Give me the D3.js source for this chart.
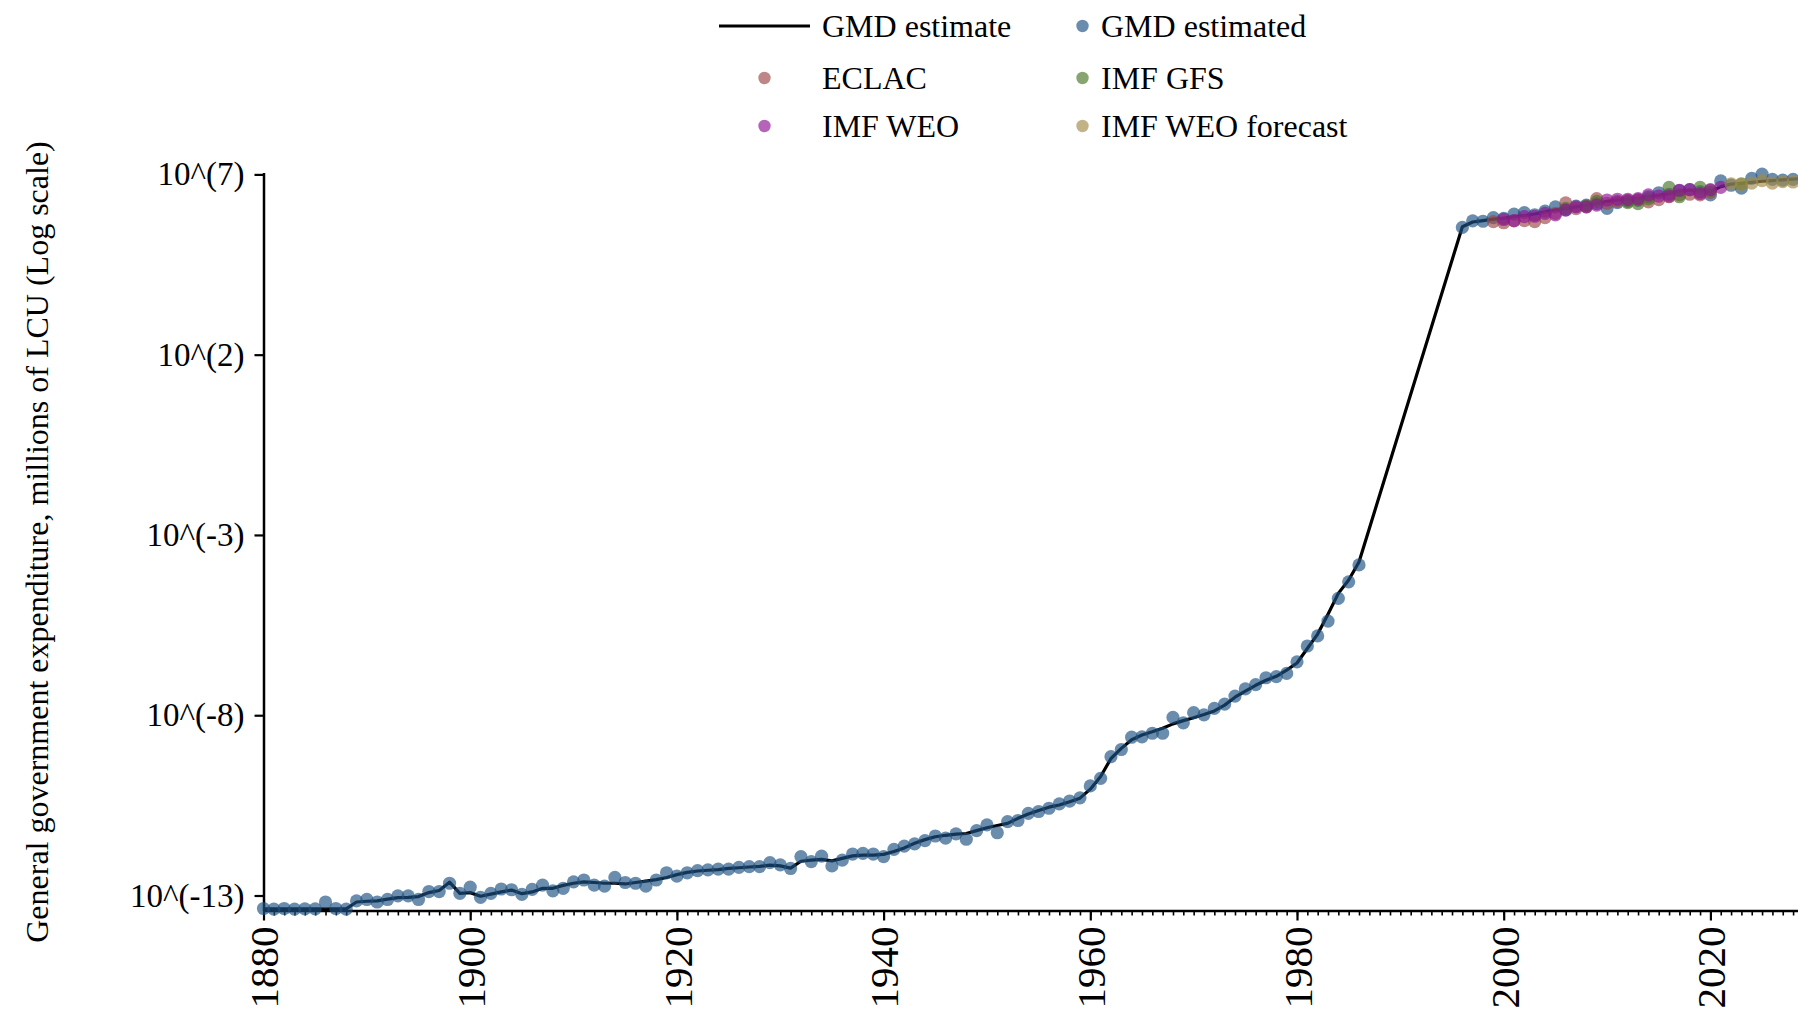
<!DOCTYPE html>
<html>
<head>
<meta charset="utf-8">
<script src="https://cdn.jsdelivr.net/npm/d3@7"></script>
<style>
  body { margin: 0; background: #fff; }
  text { font-family: "Liberation Serif", "Times New Roman", serif; fill: #000; }
</style>
</head>
<body>
<div id="chart"></div>
<script>
// Data (values are log10 of millions of LCU)
const lineYears = d3.range(1880, 1987).concat(d3.range(1996, 2030));
const lineValues = [
  -13.37, -13.37, -13.37, -13.37, -13.37, -13.37, -13.37, -13.37, -13.37, -13.18,
  -13.16, -13.15, -13.10, -13.06, -13.05, -13.03, -12.92, -12.86, -12.63, -12.94,
  -12.92, -13.02, -12.96, -12.90, -12.85, -12.95, -12.90, -12.80, -12.80, -12.72,
  -12.66, -12.62, -12.64, -12.66, -12.66, -12.68, -12.64, -12.60, -12.56, -12.50,
  -12.42, -12.36, -12.32, -12.30, -12.28, -12.25, -12.23, -12.21, -12.19, -12.16,
  -12.18, -12.24, -12.05, -12.02, -12.00, -12.04, -11.97, -11.90, -11.88, -11.88,
  -11.86, -11.78, -11.68, -11.55, -11.45, -11.37, -11.33, -11.30, -11.28, -11.20,
  -11.12, -11.06, -11.00, -10.86, -10.74, -10.64, -10.55, -10.49, -10.40, -10.30,
  -10.05, -9.70, -9.20, -8.92, -8.68, -8.55, -8.46, -8.36, -8.24, -8.15,
  -8.07, -7.98, -7.88, -7.72, -7.50, -7.33, -7.17, -7.03, -6.92, -6.75,
  -6.55, -6.15, -5.75, -5.20, -4.62, -4.25, -3.75,
  5.55, 5.68, 5.72, 5.76, 5.78, 5.83, 5.86, 5.90, 5.96, 6.02,
  6.06, 6.10, 6.14, 6.20, 6.25, 6.29, 6.31, 6.33, 6.38, 6.42,
  6.47, 6.53, 6.56, 6.56, 6.52, 6.66, 6.73, 6.75, 6.78, 6.81,
  6.83, 6.85, 6.87, 6.89
];

const gmdYears = d3.range(1880, 1987).concat(d3.range(1996, 2029));
const gmdValues = [
  -13.36, -13.38, -13.36, -13.38, -13.37, -13.37, -13.18, -13.36, -13.38, -13.15,
  -13.11, -13.18, -13.11, -13.01, -13.01, -13.11, -12.89, -12.89, -12.66, -12.94,
  -12.77, -13.05, -12.94, -12.82, -12.84, -12.97, -12.83, -12.71, -12.87, -12.80,
  -12.62, -12.57, -12.71, -12.74, -12.50, -12.64, -12.66, -12.74, -12.57, -12.37,
  -12.46, -12.37, -12.31, -12.29, -12.27, -12.27, -12.22, -12.20, -12.20, -12.09,
  -12.15, -12.25, -11.92, -12.06, -11.91, -12.18, -12.02, -11.85, -11.83, -11.85,
  -11.92, -11.72, -11.63, -11.57, -11.48, -11.35, -11.41, -11.29, -11.44, -11.20,
  -11.04, -11.26, -10.95, -10.92, -10.72, -10.67, -10.58, -10.46, -10.38, -10.29,
  -9.96, -9.75, -9.15, -8.95, -8.61, -8.60, -8.50, -8.50, -8.06, -8.21,
  -7.93, -7.99, -7.81, -7.69, -7.47, -7.27, -7.15, -6.96, -6.93, -6.84,
  -6.52, -6.08, -5.80, -5.39, -4.76, -4.30, -3.83,
  5.53, 5.71, 5.70, 5.80, 5.78, 5.90, 5.94, 5.88, 5.98, 6.10,
  6.02, 6.12, 6.15, 6.19, 6.06, 6.22, 6.25, 6.28, 6.38, 6.49,
  6.45, 6.55, 6.58, 6.52, 6.43, 6.82, 6.70, 6.62, 6.89, 7.01,
  6.86, 6.84, 6.86
];

const eclacYears = d3.range(1999, 2021);
const eclacValues = [5.69, 5.66, 5.71, 5.72, 5.69, 5.80, 5.92, 6.21, 6.05, 6.10, 6.33,
  6.20, 6.25, 6.28, 6.30, 6.24, 6.30, 6.38, 6.43, 6.45, 6.43, 6.50];

const gfsYears = [2006, 2008, 2009, 2012, 2013, 2014, 2016, 2017, 2019, 2020, 2023];
const gfsValues = [6.06, 6.13, 6.25, 6.22, 6.19, 6.32, 6.64, 6.38, 6.64, 6.56, 6.74];

const weoYears = d3.range(2000, 2022);
const weoValues = [5.75, 5.72, 5.83, 5.84, 5.92, 5.88, 6.01, 6.10, 6.10, 6.15, 6.29,
  6.31, 6.31, 6.33, 6.43, 6.40, 6.40, 6.56, 6.58, 6.47, 6.58, 6.64];

const forecastYears = d3.range(2022, 2029);
const forecastValues = [6.74, 6.72, 6.76, 6.83, 6.76, 6.80, 6.79];

const yTickExponents = [-13, -8, -3, 2, 7];
const xTickYears = d3.range(1880, 2031, 20);

const series = [
  { name: 'GMD estimated', years: gmdYears, values: gmdValues, color: '#1f5282' },
  { name: 'ECLAC', years: eclacYears, values: eclacValues, color: '#9c4848' },
  { name: 'IMF GFS', years: gfsYears, values: gfsValues, color: '#4a7628' },
  { name: 'IMF WEO', years: weoYears, values: weoValues, color: '#8e1396' },
  { name: 'IMF WEO forecast', years: forecastYears, values: forecastValues, color: '#a38a48' },
];

// Dimensions
const width = 1798;
const height = 1011;
const plot = { left: 263.5, right: 1813.75, top: 172.6, bottom: 910.5 };

const svg = d3.select('#chart')
  .append('svg')
  .attr('width', width)
  .attr('height', height);

// Scales
const x = d3.scaleLinear()
  .domain([1880, 2030])
  .range([plot.left, plot.right]);

const y = d3.scaleLog()
  .domain([Math.pow(10, -13.416), Math.pow(10, 7.05)])
  .range([plot.bottom, plot.top]);

// Axes
const yAxis = d3.axisLeft(y)
  .tickValues(yTickExponents.map(e => Math.pow(10, e)))
  .tickFormat(d => `10^(${Math.round(Math.log10(d))})`)
  .tickSize(9)
  .tickSizeOuter(0)
  .tickPadding(10);

const yG = svg.append('g')
  .attr('transform', `translate(${plot.left}, 0)`)
  .call(yAxis);
yG.select('.domain').attr('stroke-width', 2.5);
yG.selectAll('.tick line').attr('stroke-width', 2.2);
yG.selectAll('.tick text')
  .style('font-size', '33px')
  .attr('fill', '#000');

const xMinor = d3.axisBottom(x)
  .tickValues(d3.range(1880, 2031))
  .tickFormat('')
  .tickSize(5)
  .tickSizeOuter(0);
const xMinorG = svg.append('g')
  .attr('transform', `translate(0, ${plot.bottom})`)
  .call(xMinor);
xMinorG.select('.domain').remove();
xMinorG.selectAll('.tick line').attr('stroke-width', 1.6);

const xAxis = d3.axisBottom(x)
  .tickValues(xTickYears)
  .tickFormat(d3.format('d'))
  .tickSize(10)
  .tickSizeOuter(0);
const xG = svg.append('g')
  .attr('transform', `translate(0, ${plot.bottom})`)
  .call(xAxis);
xG.select('.domain').attr('stroke-width', 2.5);
xG.selectAll('.tick line').attr('stroke-width', 2.2);
xG.selectAll('.tick text')
  .style('font-size', '41px')
  .attr('fill', '#000')
  .attr('text-anchor', 'end')
  .attr('transform', 'rotate(-90)')
  .attr('x', -16)
  .attr('y', 0)
  .attr('dy', '0.35em');

// Y title
svg.append('text')
  .attr('transform', `translate(37, 542) rotate(-90)`)
  .attr('text-anchor', 'middle')
  .attr('dy', '0.35em')
  .style('font-size', '32px')
  .text('General government expenditure, millions of LCU (Log scale)');

// Line
const line = d3.line()
  .x(d => x(d[0]))
  .y(d => y(Math.pow(10, d[1])));

svg.append('path')
  .datum(d3.zip(lineYears, lineValues))
  .attr('d', line)
  .attr('fill', 'none')
  .attr('stroke', '#000')
  .attr('stroke-width', 3.2)
  .attr('stroke-linejoin', 'round');

// Dots
series.forEach(s => {
  svg.append('g')
    .selectAll('circle')
    .data(d3.zip(s.years, s.values))
    .join('circle')
    .attr('cx', d => x(d[0]))
    .attr('cy', d => y(Math.pow(10, d[1])))
    .attr('r', 6.6)
    .attr('fill', s.color)
    .attr('fill-opacity', 0.66);
});

// Legend
const legend = svg.append('g');
const legendRows = [26, 78, 126];
const col1 = { mark: 764.5, text: 822 };
const col2 = { mark: 1082.5, text: 1101 };

legend.append('line')
  .attr('x1', 719).attr('x2', 810)
  .attr('y1', legendRows[0]).attr('y2', legendRows[0])
  .attr('stroke', '#000')
  .attr('stroke-width', 3.2);

const legendItems = [
  { label: 'GMD estimate', col: col1, row: 0, color: null },
  { label: 'GMD estimated', col: col2, row: 0, color: series[0].color },
  { label: 'ECLAC', col: col1, row: 1, color: series[1].color },
  { label: 'IMF GFS', col: col2, row: 1, color: series[2].color },
  { label: 'IMF WEO', col: col1, row: 2, color: series[3].color },
  { label: 'IMF WEO forecast', col: col2, row: 2, color: series[4].color },
];

legendItems.forEach(item => {
  if (item.color) {
    legend.append('circle')
      .attr('cx', item.col.mark)
      .attr('cy', legendRows[item.row])
      .attr('r', 6.2)
      .attr('fill', item.color)
      .attr('fill-opacity', 0.66);
  }
  legend.append('text')
    .attr('x', item.col.text)
    .attr('y', legendRows[item.row])
    .attr('dy', '0.35em')
    .style('font-size', '32px')
    .text(item.label);
});
</script>
</body>
</html>
